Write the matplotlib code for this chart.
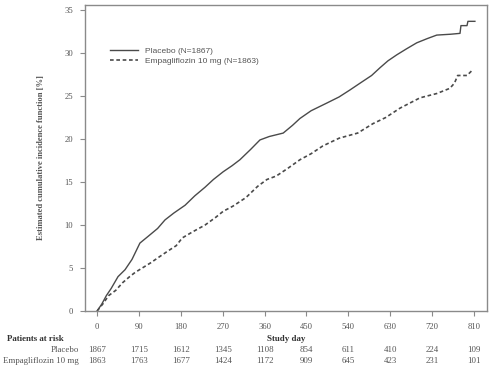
import matplotlib
matplotlib.use("Agg")
import matplotlib.pyplot as plt
import matplotlib.transforms as mtransforms

# Data
placebo_days = [0, 10, 20, 30, 45, 60, 75, 92, 110, 130, 146, 165, 189, 210, 232, 250, 271, 290,
                307, 330, 350, 370, 400, 420, 436, 460, 494, 520, 543, 565, 590, 608, 625, 644,
                665, 687, 710, 730, 760, 780, 782, 795, 797, 812]
placebo_vals = [0, 0.8, 1.8, 2.6, 4.0, 4.8, 6.0, 7.9, 8.7, 9.6, 10.6, 11.4, 12.3, 13.4, 14.4, 15.3,
                16.2, 16.9, 17.6, 18.8, 19.9, 20.3, 20.7, 21.6, 22.4, 23.3, 24.2, 24.9, 25.7, 26.5,
                27.4, 28.3, 29.1, 29.8, 30.5, 31.2, 31.7, 32.1, 32.2, 32.3, 33.2, 33.2, 33.7, 33.7]
empa_days = [0, 12, 25, 40, 55, 70, 82, 100, 115, 131, 150, 170, 183, 205, 232, 255, 271, 292,
             320, 345, 365, 385, 410, 436, 460, 485, 520, 560, 593, 620, 651, 694, 730, 758,
             768, 775, 795, 808]
empa_vals = [0, 0.8, 1.8, 2.4, 3.3, 4.0, 4.5, 5.1, 5.6, 6.2, 6.9, 7.6, 8.5, 9.2, 10.0, 10.9, 11.6,
             12.2, 13.2, 14.5, 15.3, 15.7, 16.6, 17.6, 18.3, 19.2, 20.1, 20.7, 21.8, 22.5, 23.6,
             24.8, 25.3, 25.9, 26.5, 27.4, 27.4, 28.1]

x_ticks = [0, 90, 180, 270, 360, 450, 540, 630, 720, 810]
y_ticks = [0, 5, 10, 15, 20, 25, 30, 35]
risk_placebo = [1867, 1715, 1612, 1345, 1108, 854, 611, 410, 224, 109]
risk_empa = [1863, 1763, 1677, 1424, 1172, 909, 645, 423, 231, 101]

label_placebo = "Placebo (N=1867)"
label_empa = "Empagliflozin 10 mg (N=1863)"

W, H = 491, 371
fig = plt.figure(figsize=(W / 100, H / 100), dpi=100)
ax_l, ax_r, ax_b, ax_t = 85, 487, 311, 5
ax = fig.add_axes([ax_l / W, 1 - ax_b / H, (ax_r - ax_l) / W, (ax_b - ax_t) / H])

line_col = "#4a4a4a"
text_col = "#555555"
spine_col = "#8a8a8a"

ax.plot(placebo_days, placebo_vals, color=line_col, lw=1.0, label=label_placebo)
ax.plot(empa_days, empa_vals, color=line_col, lw=1.2,
        linestyle=(0, (2.2, 1.6)), label=label_empa)

ax.set_xlim(-26, 838)
ax.set_ylim(0, 35.6)
ax.set_xticks(x_ticks)
ax.set_yticks(y_ticks)
serif = "Liberation Serif"
ax.set_xticklabels([str(t) for t in x_ticks], family=serif, fontsize=6.2, color=text_col)
ax.set_yticklabels([str(t) for t in y_ticks], family=serif, fontsize=6.2, color=text_col)
ax.tick_params(direction="out", length=3.5, width=0.8, color=spine_col, pad=5)
for s in ax.spines.values():
    s.set_color(spine_col)
    s.set_linewidth(1.0)

ax.set_ylabel("Estimated cumulative incidence function [%]", family=serif, fontweight="bold",
              fontsize=6.2, color=text_col, labelpad=14)

leg = ax.legend(loc="upper left", bbox_to_anchor=((110 - ax_l) / (ax_r - ax_l), (ax_b - 47) / (ax_b - ax_t)),
                borderaxespad=0, borderpad=0, frameon=False, handlelength=3.3, handletextpad=0.85,
                labelspacing=0.3, prop={"family": "Liberation Sans", "size": 6.0})
for t in leg.get_texts():
    t.set_color(text_col)

# Risk table
trans = mtransforms.blended_transform_factory(ax.transData, fig.transFigure)
def fy(py):
    return 1 - py / H

fig.text(7 / W, fy(339), "Patients at risk", family=serif, fontweight="bold", fontsize=6.4,
         color="#333333", va="center", ha="left")
fig.text(286 / W, fy(339), "Study day", family=serif, fontweight="bold", fontsize=6.4,
         color="#333333", va="center", ha="center")
fig.text(79 / W, fy(350), "Placebo", family=serif, fontsize=6.4, color=text_col, va="center", ha="right")
fig.text(79 / W, fy(361), "Empagliflozin 10 mg", family=serif, fontsize=6.4, color=text_col,
         va="center", ha="right")
for xd, a, b in zip(x_ticks, risk_placebo, risk_empa):
    ax.text(xd, fy(350), str(a), transform=trans, family=serif, fontsize=6.4, color=text_col,
            va="center", ha="center")
    ax.text(xd, fy(361), str(b), transform=trans, family=serif, fontsize=6.4, color=text_col,
            va="center", ha="center")

fig.savefig("out.png", dpi=100)
